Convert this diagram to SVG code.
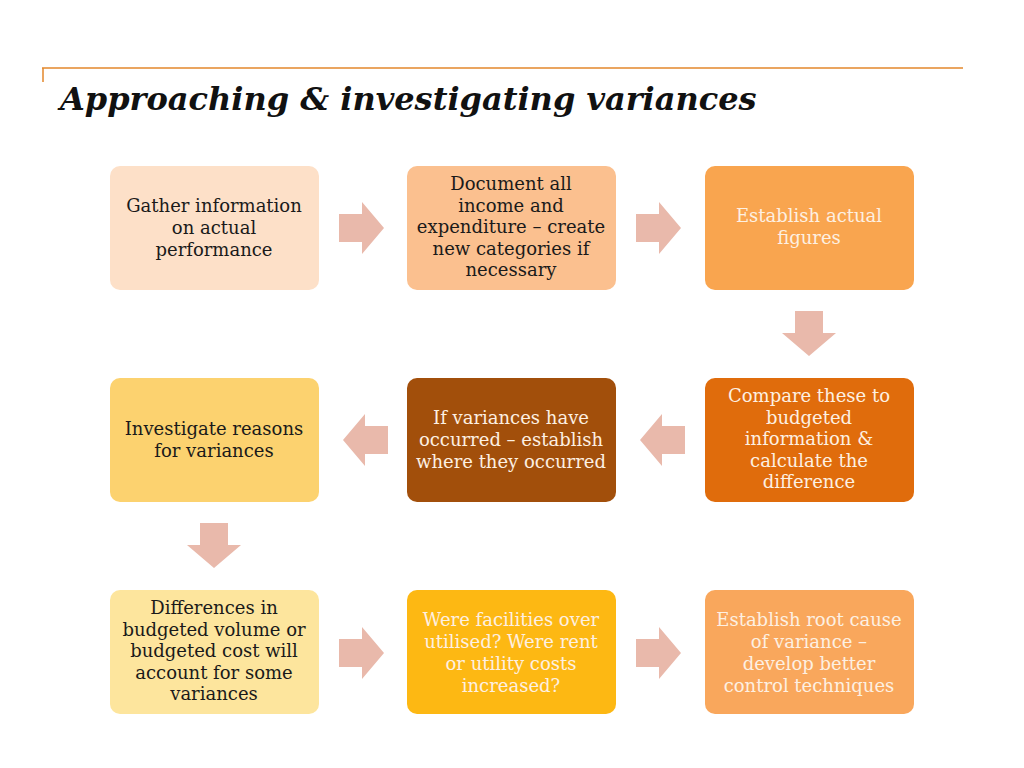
<svg xmlns="http://www.w3.org/2000/svg" width="1024" height="768" viewBox="0 0 1024 768">
<style>
.b{stroke:none}
.t{font-family:"DejaVu Serif","Liberation Serif",serif;font-size:18px;text-anchor:middle}
.d{fill:#1a1a1a}
.w{fill:#fdf0e2}
.a{fill:#e9b9ab}
</style>
<rect width="1024" height="768" fill="#fff"/>
<path d="M42 68H963M43 68V82" stroke="#e3882c" stroke-width="1.5" fill="none"/>
<text x="60" y="110" font-family="'DejaVu Serif','Liberation Serif',serif" font-size="32" font-weight="bold" font-style="italic" fill="#111">Approaching &amp; investigating variances</text>
<g id="connectors">
<polygon class="a" points="339,214 362,214 362,202 384,228 362,254 362,242 339,242"/>
<polygon class="a" points="636,214 659,214 659,202 681,228 659,254 659,242 636,242"/>
<polygon class="a" points="795,311 823,311 823,333 836,333 809,356 782,333 795,333"/>
<polygon class="a" points="685,426 662,426 662,414 640,440 662,466 662,454 685,454"/>
<polygon class="a" points="388,426 365,426 365,414 343,440 365,466 365,454 388,454"/>
<polygon class="a" points="200,523 228,523 228,545 241,545 214,568 187,545 200,545"/>
<polygon class="a" points="339,639 362,639 362,627 384,653 362,679 362,667 339,667"/>
<polygon class="a" points="636,639 659,639 659,627 681,653 659,679 659,667 636,667"/>
</g>
<g id="n1"><rect class="b" x="110" y="166" width="209" height="124" rx="10" fill="#fde0c8"/>
<text class="t d" x="214" y="212">Gather information<tspan x="214" dy="22">on actual</tspan><tspan x="214" dy="22">performance</tspan></text></g>
<g id="n2"><rect class="b" x="407" y="166" width="209" height="124" rx="10" fill="#fbc08f"/>
<text class="t d" x="511" y="190">Document all<tspan x="511" dy="21.5">income and</tspan><tspan x="511" dy="21.5">expenditure – create</tspan><tspan x="511" dy="21.5">new categories if</tspan><tspan x="511" dy="21.5">necessary</tspan></text></g>
<g id="n3"><rect class="b" x="705" y="166" width="209" height="124" rx="10" fill="#f9a54f"/>
<text class="t w" x="809" y="222">Establish actual<tspan x="809" dy="22">figures</tspan></text></g>
<g id="n4"><rect class="b" x="705" y="378" width="209" height="124" rx="10" fill="#e06c0c"/>
<text class="t w" x="809" y="402">Compare these to<tspan x="809" dy="21.5">budgeted</tspan><tspan x="809" dy="21.5">information &amp;</tspan><tspan x="809" dy="21.5">calculate the</tspan><tspan x="809" dy="21.5">difference</tspan></text></g>
<g id="n5"><rect class="b" x="407" y="378" width="209" height="124" rx="10" fill="#a24f0b"/>
<text class="t w" x="511" y="424">If variances have<tspan x="511" dy="22">occurred – establish</tspan><tspan x="511" dy="22">where they occurred</tspan></text></g>
<g id="n6"><rect class="b" x="110" y="378" width="209" height="124" rx="10" fill="#fcd26f"/>
<text class="t d" x="214" y="435">Investigate reasons<tspan x="214" dy="22">for variances</tspan></text></g>
<g id="n7"><rect class="b" x="110" y="590" width="209" height="124" rx="10" fill="#fde59d"/>
<text class="t d" x="214" y="614">Differences in<tspan x="214" dy="21.5">budgeted volume or</tspan><tspan x="214" dy="21.5">budgeted cost will</tspan><tspan x="214" dy="21.5">account for some</tspan><tspan x="214" dy="21.5">variances</tspan></text></g>
<g id="n8"><rect class="b" x="407" y="590" width="209" height="124" rx="10" fill="#fdb813"/>
<text class="t w" x="511" y="626">Were facilities over<tspan x="511" dy="22">utilised? Were rent</tspan><tspan x="511" dy="22">or utility costs</tspan><tspan x="511" dy="22">increased?</tspan></text></g>
<g id="n9"><rect class="b" x="705" y="590" width="209" height="124" rx="10" fill="#f9a75c"/>
<text class="t w" x="809" y="626">Establish root cause<tspan x="809" dy="22">of variance –</tspan><tspan x="809" dy="22">develop better</tspan><tspan x="809" dy="22">control techniques</tspan></text></g>
</svg>
